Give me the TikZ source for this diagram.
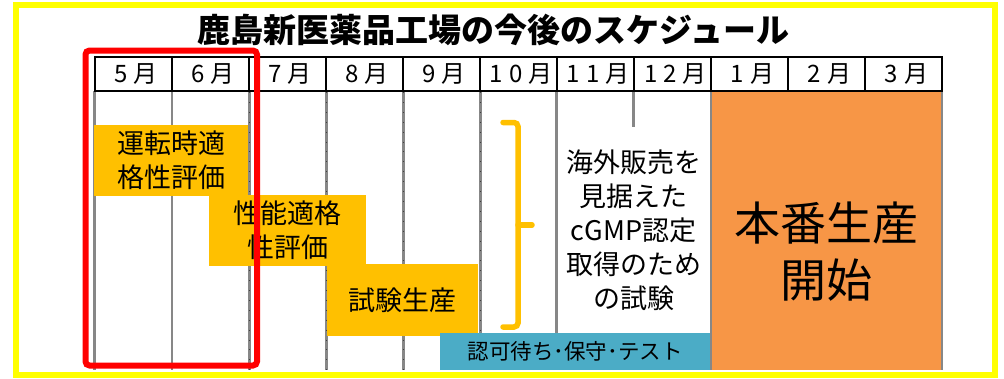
\documentclass[tikz,border=0pt]{standalone}
\usepackage{fontspec}
\newfontfamily\cjk{Noto Sans CJK JP}
\newfontfamily\cjkwide[LetterSpace=25]{Noto Sans CJK JP}
\definecolor{ybord}{HTML}{FFFF00}
\definecolor{gold}{HTML}{FFC000}
\definecolor{teal}{HTML}{4BACC6}
\definecolor{orng}{HTML}{F79646}
\definecolor{gline}{HTML}{878787}
\begin{document}
\begin{tikzpicture}[x=1pt,y=-1pt,
  gridline/.style={draw=gline, line width=2.6pt},
  tickline/.style={draw=black!75, line width=0.9pt, dash pattern=on 0.9pt off 9pt},
  cell/.style={draw=black, line width=2pt, fill=white, minimum width=77pt, minimum height=34pt, inner sep=0pt, font=\cjkwide\fontsize{24}{26}\selectfont},
  stagebox/.style={fill=gold, inner sep=0pt, align=center, font=\cjk\fontsize{27}{34}\selectfont},
  plain/.style={inner sep=0pt, align=center, font=\cjk\fontsize{27}{34}\selectfont}]
\useasboundingbox (0,0) rectangle (1004,378);
% yellow frame
\draw[ybord, line width=6pt] (15.5,4.5) rectangle (995,374.5);
% title
\node[inner sep=0pt, font=\cjk\fontsize{33}{36}\selectfont\bfseries] (title) at (493.5,30) {鹿島新医薬品工場の今後のスケジュール};
% orange production block
\fill[orng] (711,91) rectangle (942,370);
% grid lines
\foreach \x/\ya/\yb in {94.5/91/370, 172/91/370, 556.7/91/335, 633.6/91/127, 711/91/370, 942/91/370}
  \draw[gridline] (\x,\ya) -- (\x,\yb);
\foreach \x in {249.2, 326.3, 403.3, 480.4} {
  \draw[gridline] (\x,91) -- (\x,370);
  \draw[tickline] (\x,92) -- (\x,370);
}
% stage boxes
\node[stagebox, minimum width=154pt, minimum height=71pt] (b1) at (171,160.5) {運転時適\\格性評価};
\node[stagebox, minimum width=157pt, minimum height=71pt] (b2) at (287.5,230.5) {性能適格\\性評価};
\node[stagebox, minimum width=151pt, minimum height=72pt] (b3) at (402.5,300) {試験生産};
\node[fill=teal, inner sep=0pt, minimum width=270pt, minimum height=37pt, font=\cjk\fontsize{21.5}{24}\selectfont] (b4) at (575,351.5) {認可待ち･保守･テスト};
% bracket
\draw[gold, line width=5.5pt, line cap=round, rounded corners=4pt] (503,122.5) -- (518,122.5) -- (518,327) -- (503,327);
\draw[gold, line width=5.5pt, line cap=round] (518,225) -- (532,225);
% texts
\node[plain] (cgmp) at (633.5,230.5) {海外販売を\\見据えた\\cGMP認定\\取得のため\\の試験};
\node[inner sep=0pt, align=center, font=\cjk\fontsize{46}{57}\selectfont] (prod) at (826.5,251.5) {本番生産\\開始};
% header row
\foreach \t [count=\i from 0] in {5月,6月,7月,8月,9月,10月,11月,12月,1月,2月,3月}
  \node[cell] (h\i) at ({94.5+77.05*\i+38.5},74) {\hspace{6pt}\t};
% red highlight
\draw[red, line width=6pt, rounded corners=4pt] (85.5,50.5) rectangle (257,365.5);
\end{tikzpicture}
\end{document}
